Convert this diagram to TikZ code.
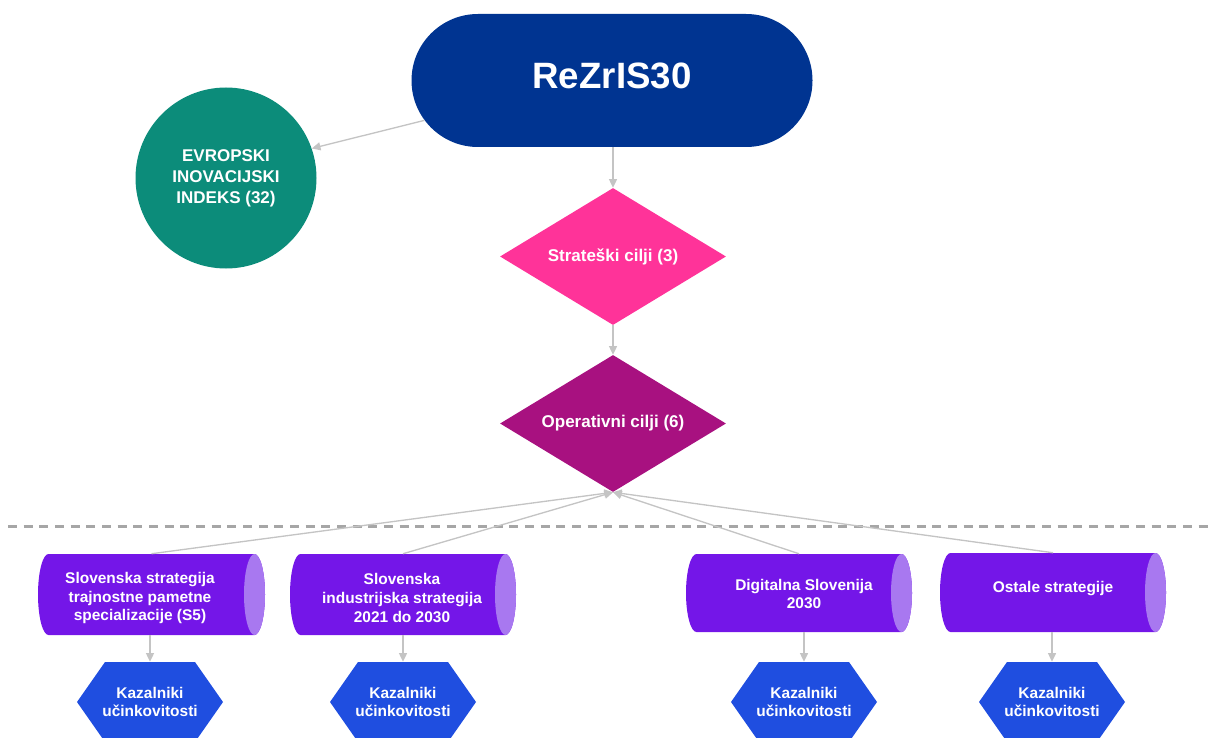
\documentclass[tikz,border=0pt]{standalone}
\usepackage{fontspec}
\setmainfont{Liberation Sans}
\usetikzlibrary{shapes.geometric,shapes.misc,arrows.meta}
\definecolor{rezblue}{RGB}{0,52,145}
\definecolor{euteal}{RGB}{12,140,122}
\definecolor{stratpink}{RGB}{255,51,153}
\definecolor{oppurple}{RGB}{168,17,128}
\definecolor{cylbody}{RGB}{116,22,232}
\definecolor{cylcap}{RGB}{168,120,240}
\definecolor{hexblue}{RGB}{31,78,224}
\definecolor{conngray}{RGB}{196,196,196}
\definecolor{dashgray}{RGB}{166,166,166}
\begin{document}
\begin{tikzpicture}[x=0.75pt,y=-0.75pt,
  every node/.style={text=white,inner sep=0pt},
  conn/.style={draw=conngray,line width=1pt,-{Triangle[length=6.5pt,width=6pt]}},
  smalltext/.style={align=center,font=\bfseries\fontsize{11.6}{14}\selectfont},
  midtext/.style={align=center,font=\bfseries\fontsize{12.75}{15.75}\selectfont},
  goal/.style={diamond,shape aspect=1.65,minimum width={226*0.75pt},minimum height={137*0.75pt},midtext},
  hexbox/.style={minimum width={146*0.75pt},minimum height={80*0.75pt},smalltext},
  cylbox/.style={minimum width={206*0.75pt},minimum height={#1*0.75pt}}]
\useasboundingbox (0,0) rectangle (1209,738);
\clip (0,0) rectangle (1209,738);

% top
\node[rounded rectangle,fill=rezblue,minimum width={401*0.75pt},minimum height={133*0.75pt},
  text depth={10*0.75pt},font=\bfseries\fontsize{27.5}{30}\selectfont] (rez) at (612,80.5) {ReZrIS30};
\node[circle,fill=euteal,minimum size={181*0.75pt},midtext] (eu) at (226,178) {EVROPSKI\\INOVACIJSKI\\INDEKS (32)};
\node[goal,fill=stratpink] (str) at (613,256.5) {Strateški cilji (3)};
\node[goal,fill=oppurple] (op) at (613,423.5) {Operativni cilji (6)};

\draw[conn] (rez.192) -- (eu.19);
\draw[conn] (str.north |- rez.south) -- (str.north);
\draw[conn] (str.south) -- (op.north);

% dashed separator
\draw[dashgray,line width=2.25pt,dash pattern=on 6.75pt off 5pt] (8,526) -- (1209,526);

% cylinders
\foreach \xa/\xb/\yt/\yb in {48.5/254.5/554/635, 300.5/505.5/554/635, 696.5/901.5/554/632, 950.5/1155.5/553/632}{
  \pgfmathsetmacro{\ry}{(\yb-\yt)/2*0.75}
  \fill[cylbody] (\xa,\yt) -- (\xb,\yt) arc[start angle=90,end angle=-90,x radius=7.875pt,y radius=\ry pt]
     -- (\xa,\yb) arc[start angle=270,end angle=90,x radius=7.875pt,y radius=\ry pt] -- cycle;
  \fill[cylcap] (\xb,{(\yt+\yb)/2}) ellipse[x radius=7.875pt,y radius=\ry pt];
}
\node[cylbox=81] (c1) at (151.5,594.5) {};
\node[cylbox=81] (c2) at (403,594.5) {};
\node[cylbox=78] (c3) at (799,593) {};
\node[cylbox=79] (c4) at (1053,592.5) {};
\node[smalltext] (t1) at (140,598) {Slovenska strategija\\trajnostne pametne\\specializacije (S5)};
\node[smalltext] (t2) at (402,598) {Slovenska\\industrijska strategija\\2021 do 2030};
\node[smalltext] (t3) at (804,594) {Digitalna Slovenija\\2030};
\node[smalltext] (t4) at (1053,589) {Ostale strategije};

\foreach \c in {c1,c2,c3,c4}{\draw[conn] (\c.north) -- (op.south);}

% hexagons
\foreach \cx in {150,403,804,1052}{
  \fill[hexblue] (\cx-73,702) -- (\cx-45,662) -- (\cx+45,662) -- (\cx+73,702) -- (\cx+45,742) -- (\cx-45,742) -- cycle;
}
\node[hexbox] (h1) at (150,702) {Kazalniki\\učinkovitosti};
\node[hexbox] (h2) at (403,702) {Kazalniki\\učinkovitosti};
\node[hexbox] (h3) at (804,702) {Kazalniki\\učinkovitosti};
\node[hexbox] (h4) at (1052,702) {Kazalniki\\učinkovitosti};

\draw[conn] (h1.north |- c1.south) -- (h1.north);
\draw[conn] (h2.north |- c2.south) -- (h2.north);
\draw[conn] (h3.north |- c3.south) -- (h3.north);
\draw[conn] (h4.north |- c4.south) -- (h4.north);
\end{tikzpicture}
\end{document}
